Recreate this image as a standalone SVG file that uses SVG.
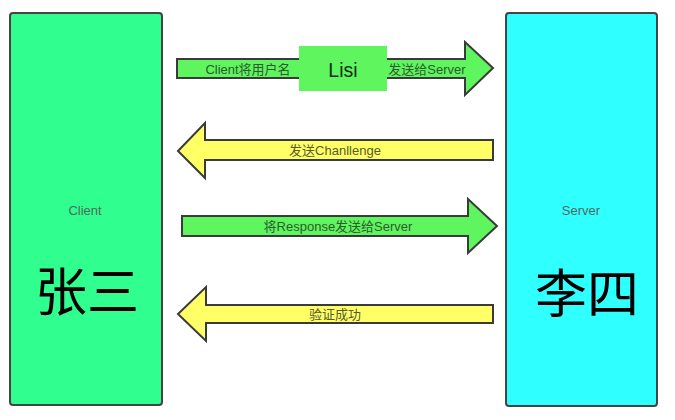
<svg xmlns="http://www.w3.org/2000/svg" width="675" height="420" viewBox="0 0 675 420">
<style>
.box{stroke:#444;stroke-width:2}
.ga{fill:#5ef55e;stroke:#3a3a3a;stroke-width:2;stroke-linejoin:miter}
.ya{fill:#ffff66;stroke:#3a3a3a;stroke-width:2;stroke-linejoin:miter}
.lbl{font-family:"Liberation Sans","Noto Sans CJK SC",sans-serif;font-size:13px;fill:#2f5a2f;text-anchor:middle;dominant-baseline:central}
.small{font-family:"Liberation Sans",sans-serif;font-size:13px;fill:#4f6a5f;text-anchor:middle;dominant-baseline:central}
.big{font-family:"Noto Sans CJK SC",sans-serif;font-size:52px;fill:#000;text-anchor:middle;dominant-baseline:central}
</style>
<rect width="675" height="420" fill="#fff"/>
<g id="client">
<rect class="box" x="10" y="13" width="152" height="392" rx="3" fill="#30fe8e"/>
<text class="small" x="85" y="210">Client</text>
<text class="big" x="87" y="288">张三</text>
</g>
<g id="server">
<rect class="box" x="506" y="13" width="151" height="393" rx="3" fill="#30ffff"/>
<text class="small" x="581" y="210">Server</text>
<text class="big" x="587" y="290">李四</text>
</g>
<g id="connectors">
<g id="msg1">
<polygon class="ga" points="177,59 465,59 465,42 493,68 465,95 465,78 177,78"/>
<rect x="299" y="46" width="88" height="45" fill="#5ef55e"/>
<text class="lbl" x="248" y="69">Client将用户名</text>
<text class="lbl" x="343" y="70" style="font-size:19.5px;fill:#1a2a1a">Lisi</text>
<text class="lbl" x="427" y="69">发送给Server</text>
</g>
<g id="msg2">
<polygon class="ya" points="493,140 205,140 205,123 178,151 205,178 205,160 493,160"/>
<text class="lbl" x="335" y="150" style="fill:#5a5a2f">发送Chanllenge</text>
</g>
<g id="msg3">
<polygon class="ga" points="182,216 468,216 468,199 497,226 468,253 468,236 182,236"/>
<text class="lbl" x="338" y="226">将Response发送给Server</text>
</g>
<g id="msg4">
<polygon class="ya" points="493,305 206,305 206,287 178,314 206,341 206,323 493,323"/>
<text class="lbl" x="335" y="314" style="fill:#5a5a2f">验证成功</text>
</g>
</g>
</svg>
